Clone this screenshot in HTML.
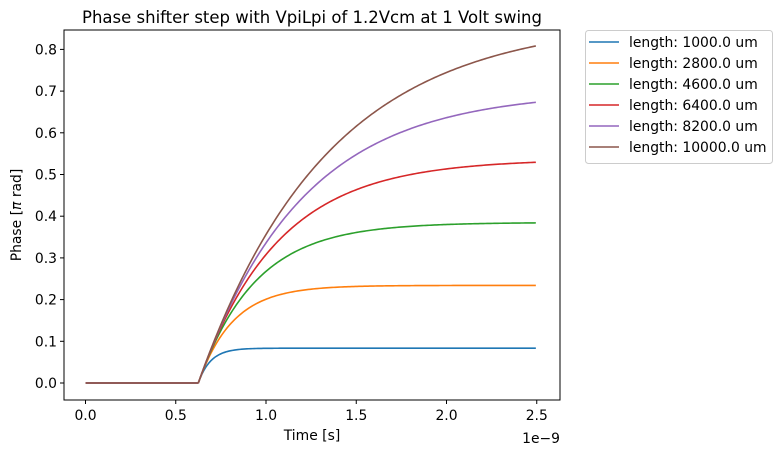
<!DOCTYPE html><html><head><style>body{margin:0;background:#fff}svg{font-family:"DejaVu Sans","Liberation Sans",sans-serif}</style></head><body>
<svg id="s" width="781" height="453" xmlns="http://www.w3.org/2000/svg">
<text x="312" y="23" font-size="16.5" text-anchor="middle">Phase shifter step with VpiLpi of 1.2Vcm at 1 Volt swing</text>
<g id="curves" fill="none" stroke-width="1.6"></g>
<rect x="64" y="30" width="496" height="370" fill="none" stroke="#000" stroke-width="1"/>
<g id="ticks" font-size="13.9" stroke="#000"></g>
<text x="312" y="440" font-size="13.9" text-anchor="middle">Time [s]</text>
<text x="560" y="443" font-size="13.9" text-anchor="end">1e−9</text>
<text transform="translate(21,215) rotate(-90)" font-size="13.9" text-anchor="middle">Phase [<tspan font-style="italic">π</tspan> rad]</text>
<rect x="585.5" y="30.5" width="187" height="133" rx="3" fill="#fff" stroke="#ccc"/>
<g id="leg" font-size="13.9"></g>
</svg>
<script>
var X=t=>85.5+t*180.5, Y=v=>383-v*417;
var C=["#1f77b4","#ff7f0e","#2ca02c","#d62728","#9467bd","#8c564b"];
var A=[0.0835,0.234,0.385,0.537,0.70,0.872],L=["1000.0","2800.0","4600.0","6400.0","8200.0","10000.0"];
var cg=document.getElementById('curves'),tg=document.getElementById('ticks'),lg=document.getElementById('leg'),h='';
A.forEach((a,i)=>{var tau=a/1.22,d='M'+X(0)+','+Y(0)+' L'+X(0.625)+','+Y(0);
for(var t=0.625;t<=2.5001;t+=0.01){var v=a*(1-Math.exp(-(t-0.625)/tau));d+=' L'+X(t).toFixed(2)+','+Y(v).toFixed(2);}
h+='<path d="'+d+'" stroke="'+C[i]+'"/>';});
cg.innerHTML=h;h='';
for(var k=0;k<=5;k++){var x=X(k*0.5);h+='<line x1="'+x+'" x2="'+x+'" y1="400" y2="404"/><text stroke="none" x="'+x+'" y="420" text-anchor="middle">'+(k*0.5).toFixed(1)+'</text>';}
for(var k=0;k<=8;k++){var y=Y(k/10);h+='<line x1="60" x2="64" y1="'+y+'" y2="'+y+'"/><text stroke="none" x="57" y="'+(y+5)+'" text-anchor="end">'+(k/10).toFixed(1)+'</text>';}
tg.innerHTML=h;h='';
L.forEach((l,i)=>{var y=42+i*21;h+='<line x1="589" x2="619" y1="'+y+'" y2="'+y+'" stroke="'+C[i]+'" stroke-width="1.6"/><text x="629" y="'+(y+5)+'">length: '+l+' um</text>';});
lg.innerHTML=h;
</script></body></html>
